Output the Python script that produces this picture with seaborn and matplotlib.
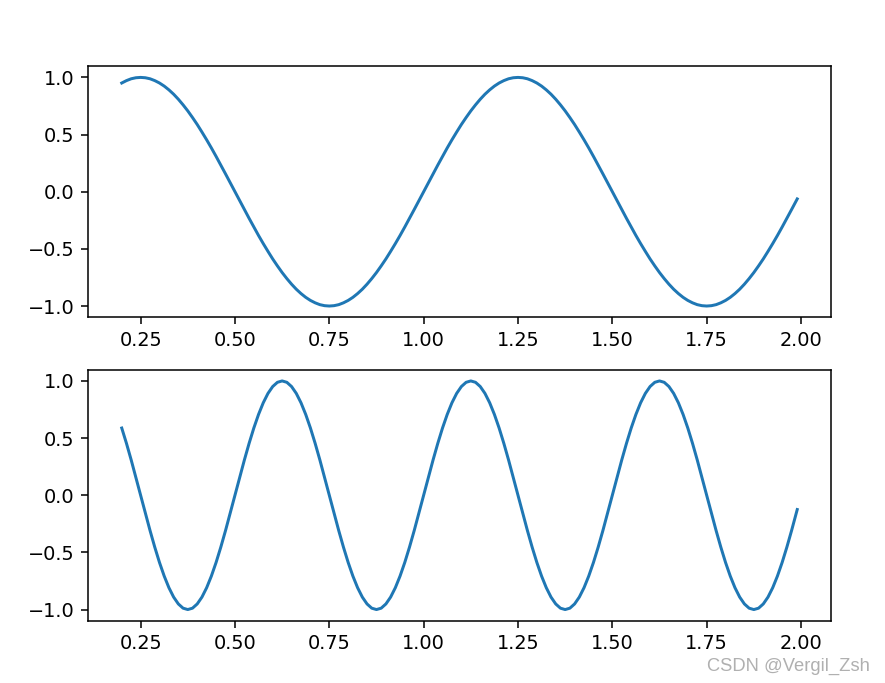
import numpy as np
import matplotlib
matplotlib.use("Agg")
import matplotlib.pyplot as plt
import seaborn as sns

# sampling grid (x positions), shared by both panels
x_vals = np.append(np.round(np.arange(0.2, 1.98751, 0.0125), 4), 1.99)

# top panel values
y_top = [
    0.951, 0.972, 0.988, 0.997, 1.000,
    0.997, 0.988, 0.972, 0.951, 0.924, 0.891, 0.853, 0.809, 0.760, 0.707,
    0.649, 0.588, 0.522, 0.454, 0.383, 0.309, 0.233, 0.156, 0.078, 0.000,
    -0.078, -0.156, -0.233, -0.309, -0.383, -0.454, -0.522, -0.588, -0.649, -0.707,
    -0.760, -0.809, -0.853, -0.891, -0.924, -0.951, -0.972, -0.988, -0.997, -1.000,
    -0.997, -0.988, -0.972, -0.951, -0.924, -0.891, -0.853, -0.809, -0.760, -0.707,
    -0.649, -0.588, -0.522, -0.454, -0.383, -0.309, -0.233, -0.156, -0.078, 0.000,
    0.078, 0.156, 0.233, 0.309, 0.383, 0.454, 0.522, 0.588, 0.649, 0.707,
    0.760, 0.809, 0.853, 0.891, 0.924, 0.951, 0.972, 0.988, 0.997, 1.000,
    0.997, 0.988, 0.972, 0.951, 0.924, 0.891, 0.853, 0.809, 0.760, 0.707,
    0.649, 0.588, 0.522, 0.454, 0.383, 0.309, 0.233, 0.156, 0.078, 0.000,
    -0.078, -0.156, -0.233, -0.309, -0.383, -0.454, -0.522, -0.588, -0.649, -0.707,
    -0.760, -0.809, -0.853, -0.891, -0.924, -0.951, -0.972, -0.988, -0.997, -1.000,
    -0.997, -0.988, -0.972, -0.951, -0.924, -0.891, -0.853, -0.809, -0.760, -0.707,
    -0.649, -0.588, -0.522, -0.454, -0.383, -0.309, -0.233, -0.156, -0.078,
    -0.063,
]

# bottom panel values
y_bot = [
    0.588, 0.454, 0.309, 0.156, 0.000, -0.156, -0.309, -0.454, -0.588, -0.707,
    -0.809, -0.891, -0.951, -0.988, -1.000, -0.988, -0.951, -0.891, -0.809, -0.707,
    -0.588, -0.454, -0.309, -0.156, 0.000, 0.156, 0.309, 0.454, 0.588, 0.707,
    0.809, 0.891, 0.951, 0.988, 1.000, 0.988, 0.951, 0.891, 0.809, 0.707,
    0.588, 0.454, 0.309, 0.156, 0.000, -0.156, -0.309, -0.454, -0.588, -0.707,
    -0.809, -0.891, -0.951, -0.988, -1.000, -0.988, -0.951, -0.891, -0.809, -0.707,
    -0.588, -0.454, -0.309, -0.156, 0.000, 0.156, 0.309, 0.454, 0.588, 0.707,
    0.809, 0.891, 0.951, 0.988, 1.000, 0.988, 0.951, 0.891, 0.809, 0.707,
    0.588, 0.454, 0.309, 0.156, 0.000, -0.156, -0.309, -0.454, -0.588, -0.707,
    -0.809, -0.891, -0.951, -0.988, -1.000, -0.988, -0.951, -0.891, -0.809, -0.707,
    -0.588, -0.454, -0.309, -0.156, 0.000, 0.156, 0.309, 0.454, 0.588, 0.707,
    0.809, 0.891, 0.951, 0.988, 1.000, 0.988, 0.951, 0.891, 0.809, 0.707,
    0.588, 0.454, 0.309, 0.156, 0.000, -0.156, -0.309, -0.454, -0.588, -0.707,
    -0.809, -0.891, -0.951, -0.988, -1.000, -0.988, -0.951, -0.891, -0.809, -0.707,
    -0.588, -0.454, -0.309, -0.156,
    -0.125,
]

x_ticks = [0.25, 0.50, 0.75, 1.00, 1.25, 1.50, 1.75, 2.00]
y_ticks = [-1.0, -0.5, 0.0, 0.5, 1.0]

DPI = 138.3
fig, axes = plt.subplots(2, 1, figsize=(885 / DPI, 683 / DPI), dpi=DPI)
fig.subplots_adjust(left=0.0994, right=0.939, top=0.9034, bottom=0.0908, hspace=0.207)

for ax, ys in [(axes[0], y_top), (axes[1], y_bot)]:
    sns.lineplot(x=x_vals, y=ys, ax=ax, color="#1f77b4", linewidth=1.55)
    ax.set_xticks(x_ticks)
    ax.set_xticklabels([f"{t:.2f}" for t in x_ticks])
    ax.set_yticks(y_ticks)
    ax.set_yticklabels([f"{t:.1f}".replace("-", "\u2212") for t in y_ticks])
    ax.set_ylim(-1.1, 1.1)

fig.text(0.983, 0.018, "CSDN @Vergil_Zsh", ha="right", va="baseline",
         fontsize=9.6, color="#b0b0b0", family="Liberation Sans")

fig.savefig("out.png", dpi=DPI)
